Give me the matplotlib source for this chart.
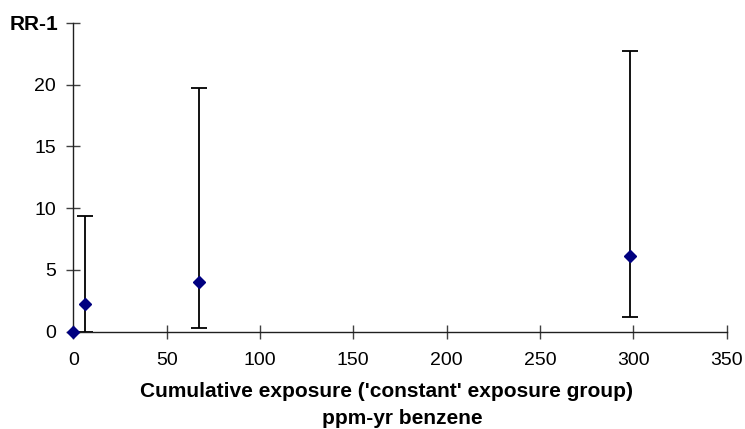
import matplotlib
matplotlib.use("Agg")
import matplotlib.pyplot as plt

plt.rcParams['font.family'] = ['Liberation Sans', 'DejaVu Sans']

exposure = [0, 6.4, 67.5, 298]
rr_minus_1 = [0.0, 2.25, 4.05, 6.1]
lower_ci = [0.0, 0.0, 0.3, 1.15]
upper_ci = [0.0, 9.35, 19.7, 22.7]

x_ticks = [0, 50, 100, 150, 200, 250, 300, 350]
y_ticks = [0, 5, 10, 15, 20, 25]
y_tick_labels = ['0', '5', '10', '15', '20', '']

x_title_1 = "Cumulative exposure ('constant' exposure group)"
x_title_2 = "ppm-yr benzene"
y_title = "RR-1"

W, H = 745, 429
fig = plt.figure(figsize=(W/100, H/100), dpi=100)
ax = fig.add_axes([73.3/W, 1 - 331.7/H, (726.6-73.3)/W, (331.7-23)/H])

yerr_low = [v - l for v, l in zip(rr_minus_1, lower_ci)]
yerr_high = [u - v for v, u in zip(rr_minus_1, upper_ci)]

ax.errorbar(exposure[1:], rr_minus_1[1:], yerr=[yerr_low[1:], yerr_high[1:]],
            fmt='none', ecolor='black', elinewidth=1.3, capsize=5.8, capthick=1.3,
            clip_on=False, zorder=2)
ax.plot(exposure, rr_minus_1, linestyle='none', marker='D', markersize=6.3,
        color='#000080', clip_on=False, zorder=3)

ax.set_xlim(0, 350)
ax.set_ylim(0, 25)
ax.set_xticks(x_ticks)
ax.set_yticks(y_ticks)
ax.set_yticklabels(y_tick_labels)

for s in ['top', 'right']:
    ax.spines[s].set_visible(False)
for s in ['left', 'bottom']:
    ax.spines[s].set_color('#202020')
    ax.spines[s].set_linewidth(1.0)

ax.tick_params(axis='both', direction='inout', length=9.6, width=1.0, color='#404040',
               labelsize=14, labelcolor='black')
ax.tick_params(axis='x', pad=9.5)
ax.tick_params(axis='y', pad=7.5)

ax.set_xlabel(x_title_1, fontsize=15, fontweight='bold')
ax.xaxis.set_label_coords(386/W, 1 - 397/H, transform=fig.transFigure)
ax.xaxis.label.set_va('baseline')
fig.text(402/W, 1 - 424/H, x_title_2, fontsize=15, fontweight='bold',
         ha='center', va='baseline')
fig.text(10/W, 1 - 30/H, y_title, fontsize=15, fontweight='bold',
         ha='left', va='baseline')

fig.savefig('out.png', dpi=100)
